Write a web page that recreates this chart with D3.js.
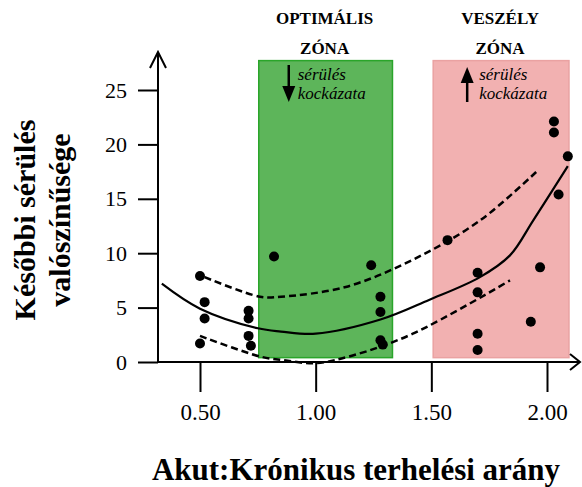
<!DOCTYPE html>
<html>
<head>
<meta charset="utf-8">
<script src="https://cdn.jsdelivr.net/npm/d3@7"></script>
<style>
	body { margin: 0; background: #fff; }
</style>
</head>
<body>
<div id="chart"></div>
<script>
// measured points
var pointX = [0.50, 0.52, 0.52, 0.50, 0.71, 0.71, 0.71, 0.72, 0.82, 1.24, 1.28, 1.28, 1.28, 1.29, 1.57, 1.70, 1.70, 1.70, 1.70, 1.97, 1.93, 2.03, 2.03, 2.09, 2.05];
var pointY = [7.9, 5.5, 4.0, 1.7, 4.7, 4.0, 2.4, 1.5, 9.7, 8.9, 6.0, 4.6, 2.0, 1.6, 11.2, 8.2, 6.4, 2.6, 1.1, 8.7, 3.7, 22.1, 21.1, 18.9, 15.4];

// fitted curve and the two dashed bands
var fitX = [0.335, 0.50, 0.75, 0.85, 1.00, 1.28, 1.49, 1.71, 1.84, 1.94, 2.09];
var fitY = [7.2, 4.9, 3.1, 2.8, 2.6, 3.9, 5.7, 7.8, 9.8, 13.0, 18.0];
var upperX = [0.52, 0.76, 0.85, 1.13, 1.42, 1.71, 1.96];
var upperY = [7.8, 6.0, 6.0, 6.9, 9.4, 13.0, 17.6];
var lowerX = [0.50, 0.76, 0.85, 1.00, 1.16, 1.42, 1.84];
var lowerY = [2.4, 0.5, 0.2, -0.1, 0.6, 2.6, 7.5];

// zones
var zoneNames = [["OPTIMÁLIS", "ZÓNA"], ["VESZÉLY", "ZÓNA"]];
var zoneStart = [0.754, 1.508];
var zoneEnd = [1.332, 2.095];
var zoneTop = 27.7;
var zoneBottom = 0.4;
var zoneArrow = ["down", "up"];
var zoneNote = ["sérülés", "kockázata"];

var xTicks = [0.5, 1.0, 1.5, 2.0];
var yTicks = [0, 5, 10, 15, 20, 25];
var xTitle = "Akut:Krónikus terhelési arány";
var yTitle = ["Későbbi sérülés", "valószínűsége"];

var width = 582,
	height = 487,
	serif = "Liberation Serif";

var svg = d3.select("#chart").append("svg")
	.attr("width", width)
	.attr("height", height);

var x = d3.scaleLinear()
	.domain([0.5, 2.0])
	.range([200, 547]);

var y = d3.scaleLinear()
	.domain([0, 25])
	.range([362, 90]);

var zoneFill = ["#5db55a", "#f2b1b1"],
	zoneStroke = ["#2aa52a", "#eaa2a2"];

// zone boxes
var zones = svg.append("g")
	.selectAll("g")
	.data(zoneStart)
	.join("g");

zones.append("rect")
	.attr("x", (d, i) => x(d))
	.attr("y", y(zoneTop))
	.attr("width", (d, i) => x(zoneEnd[i]) - x(d))
	.attr("height", y(zoneBottom) - y(zoneTop))
	.attr("fill", (d, i) => zoneFill[i])
	.attr("stroke", (d, i) => zoneStroke[i])
	.attr("stroke-width", 1.5);

zones.each(function (d, i) {
	var g = d3.select(this);
	var cx = (x(d) + x(zoneEnd[i])) / 2 - 1;
	zoneNames[i].forEach(function (t, j) {
		g.append("text")
			.attr("x", cx)
			.attr("y", 24 + j * 30)
			.attr("text-anchor", "middle")
			.style("font-family", serif)
			.style("font-weight", "bold")
			.style("font-size", "17px")
			.text(t);
	});

	var ax = x(d) + (i == 0 ? 30 : 34);
	var top = 65, bot = 102;
	g.append("line")
		.attr("x1", ax).attr("x2", ax)
		.attr("y1", zoneArrow[i] == "down" ? top : bot)
		.attr("y2", zoneArrow[i] == "down" ? bot - 14 : top + 14)
		.attr("stroke", "#000")
		.attr("stroke-width", 2.5);
	var tip = zoneArrow[i] == "down" ? bot : top + 2,
		base = zoneArrow[i] == "down" ? bot - 16 : top + 18;
	g.append("path")
		.attr("d", `M${ax - 6.5},${base}L${ax + 6.5},${base}L${ax},${tip}Z`)
		.attr("fill", "#000");

	zoneNote.forEach(function (t, j) {
		g.append("text")
			.attr("x", ax + (i == 0 ? 9 : 12))
			.attr("y", 80 + j * 19)
			.style("font-family", serif)
			.style("font-style", "italic")
			.style("font-size", "17px")
			.text(t);
	});
});

// curves
var line = d3.line()
	.x(d => x(d[0]))
	.y(d => y(d[1]))
	.curve(d3.curveCatmullRom);

svg.append("path")
	.attr("d", line(d3.zip(fitX, fitY)))
	.attr("fill", "none")
	.attr("stroke", "#000")
	.attr("stroke-width", 2.2);

[[upperX, upperY], [lowerX, lowerY]].forEach(function (c) {
	svg.append("path")
		.attr("d", line(d3.zip(c[0], c[1])))
		.attr("fill", "none")
		.attr("stroke", "#000")
		.attr("stroke-width", 2.5)
		.attr("stroke-dasharray", "7,4");
});

// points
svg.append("g")
	.selectAll("circle")
	.data(d3.zip(pointX, pointY))
	.join("circle")
	.attr("cx", d => x(d[0]))
	.attr("cy", d => y(d[1]))
	.attr("r", 5)
	.attr("fill", "#000");

// axes
var xAxis = svg.append("g")
	.attr("transform", `translate(0,${y(0)})`)
	.call(d3.axisBottom(x).tickValues(xTicks).tickFormat(d3.format(".2f")).tickSize(30).tickPadding(12));
xAxis.select(".domain").remove();
xAxis.selectAll("line").attr("stroke-width", 2);
xAxis.selectAll("text")
	.style("font-family", serif)
	.style("font-size", "23px")
	.attr("fill", "#000");

var yAxis = svg.append("g")
	.attr("transform", "translate(158,0)")
	.call(d3.axisLeft(y).tickValues(yTicks).tickSize(20).tickPadding(11));
yAxis.select(".domain").remove();
yAxis.selectAll("line").attr("stroke-width", 2);
yAxis.selectAll("text")
	.style("font-family", serif)
	.style("font-size", "22px")
	.attr("fill", "#000");

// axis lines with open arrow heads
svg.append("path")
	.attr("d", `M158,${y(0)}L158,52M150,68L158,52L166,68`)
	.attr("fill", "none")
	.attr("stroke", "#000")
	.attr("stroke-width", 2);

svg.append("path")
	.attr("d", `M158,${y(0)}L580,${y(0)}M570,${y(0) - 8}L580,${y(0)}L570,${y(0) + 8}`)
	.attr("fill", "none")
	.attr("stroke", "#000")
	.attr("stroke-width", 2);

// titles
svg.append("text")
	.attr("x", 356)
	.attr("y", 480)
	.attr("text-anchor", "middle")
	.style("font-family", serif)
	.style("font-weight", "bold")
	.style("font-size", "31px")
	.text(xTitle);

yTitle.forEach(function (t, i) {
	svg.append("text")
		.attr("transform", `translate(${35 + i * 35},220) rotate(-90)`)
		.attr("text-anchor", "middle")
		.style("font-family", serif)
		.style("font-weight", "bold")
		.style("font-size", "30px")
		.text(t);
});
</script>
</body>
</html>
